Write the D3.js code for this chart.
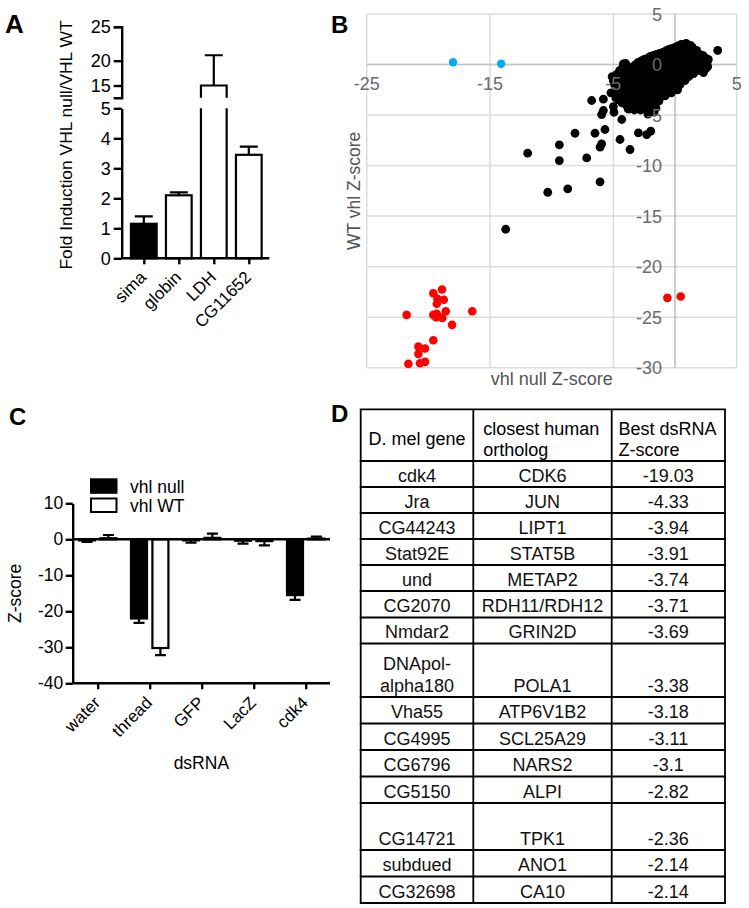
<!DOCTYPE html>
<html><head><meta charset="utf-8">
<script src="https://cdn.jsdelivr.net/npm/d3@7"></script>
<style>body{margin:0;background:#fff} svg{display:block;font-family:"Liberation Sans",Arial,Helvetica,sans-serif}</style>
</head><body><svg id="c" width="749" height="908"></svg>
<script>
// ---------- Panel A data ----------
const aCategories = ["sima","globin","LDH","CG11652"];
const aValues = [1.15, 2.1, 15, 3.45];
const aErrors = [0.25, 0.1, 5.8, 0.27];
const aLowTicks = [0,1,2,3,4,5];
const aHighTicks = [15,20,25];

// ---------- Panel B data ----------
const bBlack = [
 [3.46,1.39],[-4.19,0.07],[-4.73,-1.09],[-6.76,-3.56],[-5.81,-3.43],[-5.0,-4.16],[-4.95,-4.72],
 [-5.81,-4.55],[-5.95,-4.95],[-4.32,-5.44],[-3.65,-4.38],[-8.11,-6.80],[-6.49,-6.80],[-5.68,-6.43],
 [-5.95,-7.85],[-6.08,-8.18],[-9.38,-7.95],[-9.38,-9.50],[-11.95,-8.77],[-7.16,-9.24],[-4.46,-7.42],
 [-3.65,-8.41],[-2.97,-6.76],[-2.30,-6.93],[-1.97,-6.60],[-6.08,-11.61],[-8.70,-12.30],[-10.32,-12.64],
 [-13.73,-16.30],[-2.2,-4.9],[-1.7,-4.7],[-2.84,-4.22],
 [-5.1,-1.2],[-4.9,-2.0],[-5.2,-2.8],[-4.8,-3.3],[-5.0,-1.6],
 [-4.5,-0.6],[-4.6,-1.5],[-4.4,-2.4],[-4.5,-3.0],[-4.3,-3.8],[-4.7,-2.2],
 [-4.0,0.1],[-3.9,-0.9],[-4.1,-1.8],[-3.8,-2.6],[-4.0,-3.4],[-3.9,-4.1],[-4.2,-1.3],
 [-3.4,-0.2],[-3.5,-0.9],[-3.6,-1.5],[-3.3,-2.1],[-3.5,-2.9],[-3.4,-3.7],[-3.6,-4.3],
 [-3.0,0.2],[-2.9,-0.5],[-3.1,-1.1],[-2.8,-1.7],[-3.0,-2.5],[-2.9,-3.3],[-3.1,-4.0],[-2.8,-4.5],
 [-2.5,0.5],[-2.4,-0.1],[-2.6,-0.8],[-2.3,-1.4],[-2.5,-2.2],[-2.4,-3.0],[-2.6,-3.7],[-2.3,-4.3],
 [-2.0,0.8],[-1.9,0.2],[-2.1,-0.5],[-1.8,-1.1],[-2.0,-1.9],[-1.9,-2.7],[-2.1,-3.4],[-1.8,-4.0],
 [-1.5,1.0],[-1.4,0.4],[-1.6,-0.2],[-1.3,-0.8],[-1.5,-1.6],[-1.4,-2.3],[-1.6,-3.0],[-1.3,-3.6],
 [-1.0,1.2],[-0.9,0.6],[-1.1,0.0],[-0.8,-0.6],[-1.0,-1.3],[-0.9,-2.0],[-1.1,-2.6],[-0.8,-3.1],
 [-0.5,1.5],[-0.4,0.9],[-0.6,0.3],[-0.3,-0.4],[-0.5,-1.1],[-0.4,-1.8],[-0.6,-2.4],[-0.3,-2.8],
 [0.0,1.7],[0.1,1.1],[-0.1,0.5],[0.2,-0.2],[0.0,-0.9],[0.1,-1.6],[-0.1,-2.2],[0.2,-2.5],
 [0.5,2.0],[0.6,1.3],[0.4,0.6],[0.7,-0.1],[0.5,-0.8],[0.6,-1.4],[0.4,-2.0],
 [0.9,2.1],[1.1,1.5],[0.9,0.8],[1.2,0.1],[1.0,-0.6],[1.1,-1.2],
 [1.4,1.7],[1.6,1.1],[1.4,0.4],[1.7,-0.3],[1.5,-0.9],
 [2.0,1.0],[2.1,0.5],[1.9,-0.1],[2.2,-0.6],
 [2.4,0.7],[2.6,0.2],[2.5,-0.4],[2.3,-0.8],
 [-4.75,-1.0],[-4.75,-1.9],[-4.7,-2.7],[-4.6,-3.5],
 [-4.25,-0.3],[-4.3,-1.0],[-4.2,-2.1],[-4.25,-2.9],[-4.1,-3.6],
 [-3.7,-0.4],[-3.75,-1.1],[-3.8,-1.9],[-3.7,-3.0],[-3.7,-3.9],[-3.8,-4.4],
 [-3.2,0.0],[-3.25,-0.7],[-3.3,-1.4],[-3.2,-2.4],[-3.25,-3.2],[-3.2,-3.9],[-3.3,-4.5],
 [-2.75,0.35],[-2.7,-0.3],[-2.75,-1.0],[-2.65,-2.0],[-2.75,-2.9],[-2.7,-3.6],[-2.6,-4.2],
 [-2.25,0.6],[-2.2,-0.2],[-2.25,-0.9],[-2.2,-1.7],[-2.25,-2.5],[-2.2,-3.2],[-2.2,-3.9],[-2.0,-4.4],
 [-1.75,0.9],[-1.7,0.3],[-1.75,-0.3],[-1.65,-1.3],[-1.7,-2.2],[-1.75,-3.0],[-1.6,-3.8],[-1.55,-4.3],
 [-1.25,1.1],[-1.2,0.5],[-1.3,-0.3],[-1.2,-1.1],[-1.25,-1.9],[-1.2,-2.7],[-1.25,-3.3],
 [-0.75,1.35],[-0.7,0.7],[-0.8,-0.2],[-0.7,-0.9],[-0.75,-1.6],[-0.7,-2.3],[-0.75,-2.9],
 [-0.25,1.6],[-0.2,1.0],[-0.3,0.1],[-0.2,-0.7],[-0.25,-1.4],[-0.2,-2.1],[-0.25,-2.6],
 [0.25,1.85],[0.3,1.2],[0.2,0.3],[0.35,-0.5],[0.25,-1.2],[0.3,-1.9],[0.2,-2.3],
 [0.75,2.0],[0.8,1.1],[0.7,0.4],[0.8,-0.4],[0.75,-1.0],[0.8,-1.6],
 [1.25,1.9],[1.3,1.1],[1.2,0.5],[1.3,-0.4],[1.25,-1.0],
 [1.75,1.4],[1.8,0.8],[1.7,0.2],[1.8,-0.6],
 [2.25,0.9],[2.3,0.2],[2.2,-0.3],
 [2.7,0.5],[2.65,-0.2]
];
const bRed = [
 [-21.76,-24.77],[-19.60,-22.63],[-18.89,-22.26],[-19.27,-23.18],[-18.75,-23.28],[-19.32,-23.68],
 [-18.59,-24.41],[-16.44,-24.41],[-19.60,-24.77],[-19.32,-24.67],[-19.38,-25.00],[-18.87,-25.07],
 [-18.08,-25.76],[-19.60,-27.28],[-20.81,-27.90],[-20.27,-28.10],[-20.81,-28.63],[-21.62,-29.62],
 [-20.68,-29.56],[-20.27,-29.42],[-0.62,-23.09],[0.46,-22.96]
];
const bBlue = [[-18.0,0.23],[-14.1,0.07]];
const bXTicks = [-25,-15,-5,5];
const bYTicks = [5,0,-5,-10,-15,-20,-25,-30];

// ---------- Panel C data ----------
const cCategories = ["water","thread","GFP","LacZ","cdk4"];
const cSeries = ["vhl null","vhl WT"];
const cNull = [-0.3,-22.0,-0.3,-0.4,-15.5];
const cNullErr = [0.45,1.2,0.6,0.8,1.3];
const cWT = [0.3,-30.2,0.4,-0.5,0.2];
const cWTErr = [0.9,2.0,1.2,1.2,0.55];
const cTicks = [10,0,-10,-20,-30,-40];

// ---------- Panel D data ----------
const dHeader = ["D. mel gene","closest human\northolog","Best dsRNA\nZ-score"];
const dGenes = ["cdk4","Jra","CG44243","Stat92E","und","CG2070","Nmdar2","DNApol-\nalpha180","Vha55","CG4995","CG6796","CG5150","CG14721","subdued","CG32698"];
const dOrthologs = ["CDK6","JUN","LIPT1","STAT5B","METAP2","RDH11/RDH12","GRIN2D","POLA1","ATP6V1B2","SCL25A29","NARS2","ALPI","TPK1","ANO1","CA10"];
const dScores = ["-19.03","-4.33","-3.94","-3.91","-3.74","-3.71","-3.69","-3.38","-3.18","-3.11","-3.1","-2.82","-2.36","-2.14","-2.14"];

const svg = d3.select("#c");
const plain = d => String(d);

function styleAxis(g, fs){
  g.attr("font-family",null).attr("font-size",fs);
  g.selectAll("path,line").attr("stroke","#000").attr("stroke-width",2.4);
  g.selectAll("text").attr("fill","#000");
}
function panelLetter(t,x,y,fs){
  svg.append("text").attr("x",x).attr("y",y).attr("font-size",fs).attr("font-weight","bold").text(t);
}

// ================= Panel A =================
panelLetter("A",5,33,26);
const A = svg.append("g");
const yLow = d3.scaleLinear().domain([0,5]).range([258.3,108.3]);
const yHigh = d3.scaleLinear().domain([12.5,15,20,25]).range([97.7,85.5,60.7,26.7]);
const xA = d3.scalePoint().domain(aCategories).range([143.8,248.8]);
const bwA = 25.7, axA = 121.7, baseA = yLow(0);

aCategories.forEach((c,i)=>{
  const v=aValues[i], e=aErrors[i], cx=xA(c), x0=cx-bwA/2, x1=cx+bwA/2;
  const fill = i===0 ? "#000" : "#fff";
  let top, etop;
  if (v<=5){
    top = yLow(v); etop = yLow(v+e);
    A.append("rect").attr("x",x0).attr("y",top).attr("width",bwA).attr("height",baseA-top)
      .attr("fill",fill).attr("stroke","#000").attr("stroke-width",2.2);
  } else {
    top = yHigh(v); etop = yHigh(v+e);
    A.append("rect").attr("x",x0).attr("y",yLow(5)).attr("width",bwA).attr("height",baseA-yLow(5)).attr("fill",fill);
    A.append("path").attr("d",`M${x0},${baseA}V${yLow(5)}M${x1},${baseA}V${yLow(5)}`)
      .attr("fill","none").attr("stroke","#000").attr("stroke-width",2.2);
    A.append("path").attr("d",`M${x0},${yHigh(12.5)}V${top}H${x1}V${yHigh(12.5)}`)
      .attr("fill",fill).attr("stroke","#000").attr("stroke-width",2.2);
  }
  A.append("path").attr("d",`M${cx},${top}V${etop}M${cx-9},${etop}H${cx+9}`)
    .attr("fill","none").attr("stroke","#000").attr("stroke-width",2.2);
});
const gAL = A.append("g").attr("transform",`translate(${axA},0)`)
  .call(d3.axisLeft(yLow).tickValues(aLowTicks).tickFormat(plain).tickSize(8).tickSizeOuter(0).tickPadding(3));
styleAxis(gAL,18);
const gAH = A.append("g").attr("transform",`translate(${axA},0)`)
  .call(d3.axisLeft(yHigh).tickValues(aHighTicks).tickFormat(plain).tickSize(8).tickSizeOuter(8).tickPadding(3));
styleAxis(gAH,18);
const gAX = A.append("g").attr("transform",`translate(0,${baseA})`)
  .call(d3.axisBottom(xA).tickSize(6).tickSizeOuter(0).tickFormat(""));
gAX.select(".domain").remove();
styleAxis(gAX,17);
A.append("line").attr("x1",axA).attr("x2",269.3).attr("y1",baseA).attr("y2",baseA).attr("stroke","#000").attr("stroke-width",2.4);
A.selectAll("text.cat").data(aCategories).join("text").attr("class","cat")
  .attr("transform",d=>`translate(${xA(d)+3.4},${baseA+20}) rotate(-45)`)
  .attr("text-anchor","end").attr("font-size",17).text(d=>d);
A.append("text").attr("transform",`translate(72,145) rotate(-90)`).attr("text-anchor","middle")
  .attr("font-size",17.4).text("Fold Induction VHL null/VHL WT");

// ================= Panel B =================
panelLetter("B",331,33,24);
const B = svg.append("g");
const bx = d3.scaleLinear().domain([-25,5]).range([366.7,736.7]);
const by = d3.scaleLinear().domain([-30,5]).range([367.7,14]);
B.selectAll("line.gv").data(bXTicks).join("line").attr("class","gv")
  .attr("x1",d=>bx(d)).attr("x2",d=>bx(d)).attr("y1",by(5)).attr("y2",by(-30))
  .attr("stroke","#dcdcdc").attr("stroke-width",1.5);
B.selectAll("line.gh").data(bYTicks).join("line").attr("class","gh")
  .attr("x1",bx(-25)).attr("x2",bx(5)).attr("y1",d=>by(d)).attr("y2",d=>by(d))
  .attr("stroke","#dcdcdc").attr("stroke-width",1.5);
B.append("line").attr("x1",bx(0)).attr("x2",bx(0)).attr("y1",by(5)).attr("y2",by(-30)).attr("stroke","#bcbcbc").attr("stroke-width",1.5);
B.append("line").attr("x1",bx(-25)).attr("x2",bx(5)).attr("y1",by(0)).attr("y2",by(0)).attr("stroke","#c4c4c4").attr("stroke-width",1.5);
B.selectAll("circle.k").data(bBlack).join("circle").attr("class","k")
  .attr("cx",d=>bx(d[0])).attr("cy",d=>by(d[1])).attr("r",4.4).attr("fill","#000");
B.selectAll("circle.r").data(bRed).join("circle").attr("class","r")
  .attr("cx",d=>bx(d[0])).attr("cy",d=>by(d[1])).attr("r",4.3).attr("fill","#ff0000");
B.selectAll("circle.b").data(bBlue).join("circle").attr("class","b")
  .attr("cx",d=>bx(d[0])).attr("cy",d=>by(d[1])).attr("r",4.2).attr("fill","#00aeef");
B.selectAll("text.xt").data(bXTicks).join("text").attr("class","xt")
  .attr("x",d=>bx(d)).attr("y",by(0)+25.5).attr("text-anchor","middle")
  .attr("font-size",18).attr("fill","#6b6b6b").text(plain);
B.selectAll("text.yt").data(bYTicks).join("text").attr("class","yt")
  .attr("x",bx(0)-13).attr("y",d=>by(d)+6.5).attr("text-anchor","end")
  .attr("font-size",18).attr("fill","#6b6b6b").text(plain);
B.append("text").attr("x",(bx(-25)+bx(5))/2).attr("y",384.5).attr("text-anchor","middle")
  .attr("font-size",18).attr("fill","#555").text("vhl null Z-score");
B.append("text").attr("transform",`translate(360,${(by(5)+by(-30))/2}) rotate(-90)`).attr("text-anchor","middle")
  .attr("font-size",17.5).attr("fill","#555").text("WT vhl Z-score");

// ================= Panel C =================
panelLetter("C",9,425,24);
const C = svg.append("g");
const yC = d3.scaleLinear().domain([-40,10]).range([683.3,503.3]);
const xC = d3.scalePoint().domain(cCategories).range([97.7,305.7]);
const xSub = d3.scalePoint().domain(cSeries).range([-10.7,10.7]);
const bwC = 16, axC = 72.7;
const cData = [cNull, cWT], cErr = [cNullErr, cWTErr];
cSeries.forEach((s,si)=>{
  cCategories.forEach((c,i)=>{
    const v=cData[si][i], e=cErr[si][i], cx=xC(c)+xSub(s);
    const y0=yC(0), y1=yC(v);
    C.append("rect").attr("x",cx-bwC/2).attr("y",Math.min(y0,y1)).attr("width",bwC).attr("height",Math.abs(y1-y0))
      .attr("fill",si===0?"#000":"#fff").attr("stroke","#000").attr("stroke-width",2.2);
    const ye = yC(v + Math.sign(v)*e);
    C.append("path").attr("d",`M${cx},${y1}V${ye}M${cx-5.5},${ye}H${cx+5.5}`)
      .attr("fill","none").attr("stroke","#000").attr("stroke-width",2.2);
  });
});
C.append("line").attr("x1",axC).attr("x2",330).attr("y1",yC(0)).attr("y2",yC(0)).attr("stroke","#000").attr("stroke-width",2.4);
const gCY = C.append("g").attr("transform",`translate(${axC},0)`)
  .call(d3.axisLeft(yC).tickValues(cTicks).tickFormat(plain).tickSize(7).tickSizeOuter(0).tickPadding(2.5));
styleAxis(gCY,17.5);
const gCX = C.append("g").attr("transform",`translate(0,${yC(-40)})`)
  .call(d3.axisBottom(xC).tickSize(6).tickSizeOuter(0).tickFormat(""));
gCX.select(".domain").remove();
styleAxis(gCX,17);
C.append("line").attr("x1",axC).attr("x2",330).attr("y1",yC(-40)).attr("y2",yC(-40)).attr("stroke","#000").attr("stroke-width",2.4);
C.selectAll("text.cat").data(cCategories).join("text").attr("class","cat")
  .attr("transform",d=>`translate(${xC(d)+3.5},${yC(-40)+20.5}) rotate(-45)`)
  .attr("text-anchor","end").attr("font-size",17).text(d=>d);
C.append("text").attr("x",(axC+330)/2).attr("y",769).attr("text-anchor","middle").attr("font-size",17.5).text("dsRNA");
C.append("text").attr("transform",`translate(20.5,${(yC(10)+yC(-40))/2}) rotate(-90)`).attr("text-anchor","middle")
  .attr("font-size",17.5).text("Z-score");
// legend
const leg = C.selectAll("g.leg").data(cSeries).join("g").attr("class","leg")
  .attr("transform",(d,i)=>`translate(90,${478.3+i*19.2})`);
leg.append("rect").attr("x",1).attr("y",1).attr("width",25.5).attr("height",13.5)
  .attr("fill",(d,i)=>i===0?"#000":"#fff").attr("stroke","#000").attr("stroke-width",2);
leg.append("text").attr("x",40).attr("y",14.5).attr("font-size",17.5).text(d=>d);

// ================= Panel D =================
panelLetter("D",331,422,24);
const D = svg.append("g");
const colX = [360.7,473.3,611.7,725];
const tableTop = 409.3, headerBottom = 461;
const rowBottoms = [487,513,539,565,591,617.5,643.5,697,723.5,750,776.5,803,850,876.5,903];
[tableTop, headerBottom, ...rowBottoms].forEach(y=>{
  D.append("line").attr("x1",colX[0]-0.9).attr("x2",colX[3]+0.9).attr("y1",y).attr("y2",y).attr("stroke","#000").attr("stroke-width",1.8);
});
colX.forEach(x=>{
  D.append("line").attr("x1",x).attr("x2",x).attr("y1",tableTop).attr("y2",rowBottoms[rowBottoms.length-1]).attr("stroke","#000").attr("stroke-width",1.8);
});
D.append("text").attr("x",(colX[0]+colX[1])/2).attr("y",445).attr("text-anchor","middle").attr("font-size",18).text(dHeader[0]);
[1,2].forEach(ci=>{
  const lines = dHeader[ci].split("\n");
  const xl = ci===1 ? colX[1]+10 : colX[2]+6.7;
  lines.forEach((l,li)=>{
    D.append("text").attr("x",xl).attr("y",434.5+li*21).attr("font-size",18).text(l);
  });
});
const cols = [dGenes, dOrthologs, dScores];
cols.forEach((col,ci)=>{
  const cx = (colX[ci]+colX[ci+1])/2;
  col.forEach((t,ri)=>{
    const lines = t.split("\n");
    const yb = rowBottoms[ri]-5.5;
    lines.forEach((l,li)=>{
      D.append("text").attr("x",cx).attr("y",yb-(lines.length-1-li)*21.5)
        .attr("text-anchor","middle").attr("font-size",18).attr("fill","#111").text(l);
    });
  });
});
</script>
</body></html>
